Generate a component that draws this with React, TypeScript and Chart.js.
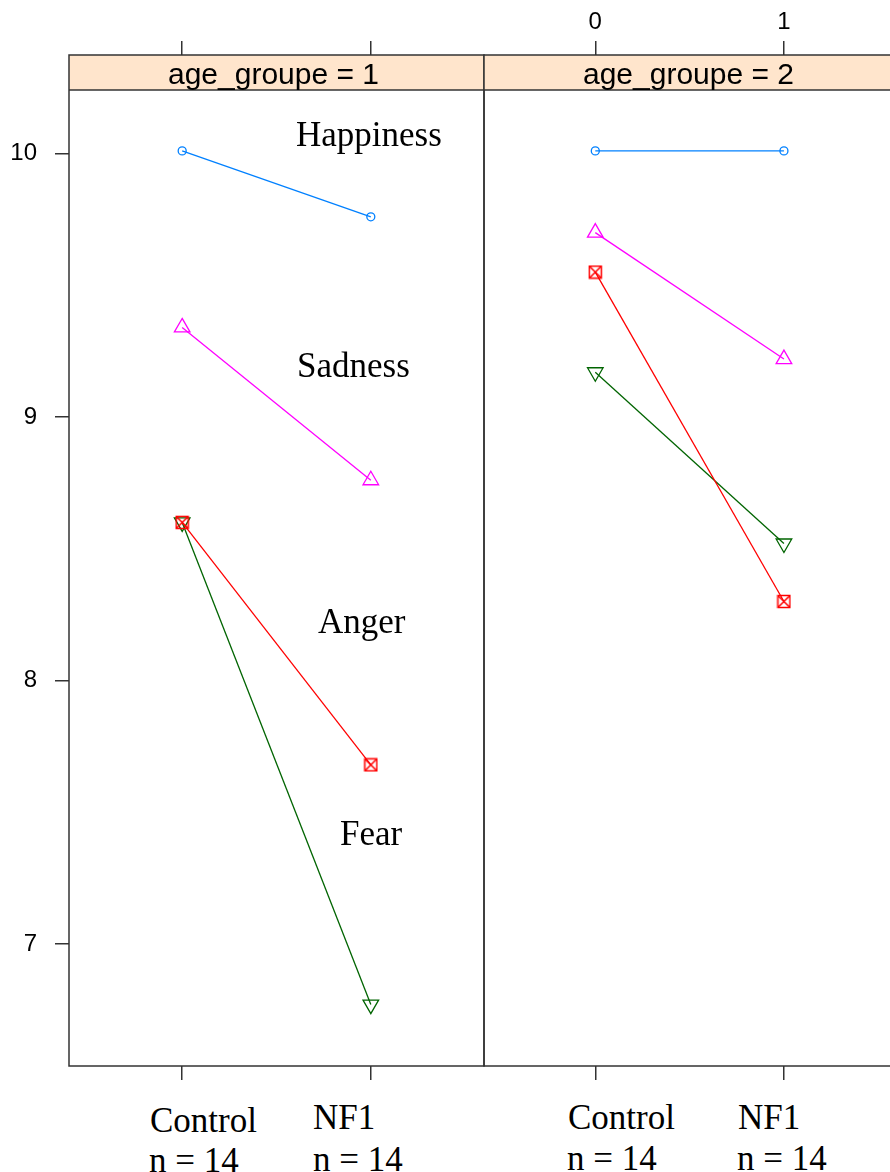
import React, { useEffect, useRef } from "react";
import { Chart, registerables } from "chart.js";

Chart.register(...registerables);

// ---------- data ----------
const groups = ["Control", "NF1"];
const groupSizes = [14, 14];
const xValues = [0, 1];
const panelLabels = ["age_groupe = 1", "age_groupe = 2"];
const emotions = ["Happiness", "Sadness", "Anger", "Fear"];

// age_groupe = 1 (Control, NF1)
const happiness1 = [10.01, 9.76];
const sadness1 = [9.34, 8.76];
const anger1 = [8.6, 7.68];
const fear1 = [8.6, 6.77];

// age_groupe = 2 (Control, NF1)
const happiness2 = [10.01, 10.01];
const sadness2 = [9.7, 9.22];
const anger2 = [9.55, 8.3];
const fear2 = [9.17, 8.52];

const yTicks = [7, 8, 9, 10];
const topTickLabels = ["0", "1"];

// ---------- style / layout ----------
const W = 890;
const H = 1172;
const PLOT_TOP = 55;
const PLOT_BOTTOM = 1066;
const STRIP_H = 35;
const CANVAS_H = 1090;
const Y_MIN = 6.537;
const Y_MAX = 10.374;
const LINE = "#333";

const colors: Record<string, string> = {
  Happiness: "#0080ff",
  Sadness: "#ff00ff",
  Anger: "#ff0000",
  Fear: "#006400",
};

function makeBoxX(color: string) {
  const c = document.createElement("canvas");
  c.width = 15;
  c.height = 15;
  const g = c.getContext("2d")!;
  g.strokeStyle = color;
  g.lineWidth = 1.5;
  g.strokeRect(1.5, 1.5, 12, 12);
  g.beginPath();
  g.moveTo(1.5, 1.5);
  g.lineTo(13.5, 13.5);
  g.moveTo(13.5, 1.5);
  g.lineTo(1.5, 13.5);
  g.stroke();
  return c;
}

const stripPlugin = {
  id: "strip",
  beforeDatasetsDraw(chart: any, _args: any, opts: any) {
    const { ctx, chartArea } = chart;
    const { left, right, top } = chartArea;
    ctx.save();
    ctx.fillStyle = "#ffe5cc";
    ctx.fillRect(left, top, right - left, STRIP_H);
    ctx.strokeStyle = LINE;
    ctx.lineWidth = 1.5;
    ctx.beginPath();
    ctx.moveTo(left, top + STRIP_H);
    ctx.lineTo(right, top + STRIP_H);
    ctx.stroke();
    ctx.fillStyle = "#000";
    ctx.font = '30px "Liberation Sans", Arial, sans-serif';
    ctx.textAlign = "center";
    ctx.textBaseline = "alphabetic";
    ctx.fillText(opts.label, (left + right) / 2 - 3, top + 29);
    ctx.restore();
  },
  afterDraw(chart: any) {
    const { ctx, chartArea } = chart;
    ctx.save();
    ctx.strokeStyle = LINE;
    ctx.lineWidth = 1.5;
    ctx.strokeRect(
      chartArea.left,
      chartArea.top,
      chartArea.right - chartArea.left,
      chartArea.bottom - chartArea.top
    );
    ctx.restore();
  },
};

function noPad(s: any) {
  s.paddingTop = 0;
  s.paddingBottom = 0;
  s.paddingLeft = 0;
  s.paddingRight = 0;
}

type PanelProps = {
  values: number[][];
  label: string;
  showY: boolean;
  showTopLabels: boolean;
  left: number;
  width: number;
  padLeft: number;
  padRight: number;
  xMin: number;
  xMax: number;
};

function Panel(p: PanelProps) {
  const ref = useRef<HTMLCanvasElement>(null);
  useEffect(() => {
    const boxX = makeBoxX(colors.Anger);
    const styleOf: Record<string, any> = {
      Happiness: { pointStyle: "circle", pointRadius: 4, pointRotation: 0 },
      Sadness: { pointStyle: "triangle", pointRadius: 9, pointRotation: 0 },
      Anger: { pointStyle: boxX, pointRadius: 7, pointRotation: 0 },
      Fear: { pointStyle: "triangle", pointRadius: 9, pointRotation: 180 },
    };
    const tickGrid = {
      display: true,
      drawOnChartArea: false,
      drawTicks: true,
      tickLength: 14,
      color: LINE,
      lineWidth: 1.5,
    };
    const tickFont = { family: '"Liberation Sans", Arial, sans-serif', size: 24 };
    const setXTicks = (s: any) => {
      s.ticks = xValues.map((v) => ({ value: v }));
    };
    const chart = new Chart(ref.current!, {
      type: "line",
      data: {
        datasets: emotions.map((name, i) => ({
          label: name,
          data: xValues.map((x, j) => ({ x, y: p.values[i][j] })),
          borderColor: colors[name],
          borderWidth: 1.3,
          backgroundColor: "rgba(0,0,0,0)",
          pointBorderColor: colors[name],
          pointBackgroundColor: "rgba(0,0,0,0)",
          pointBorderWidth: 1.3,
          tension: 0,
          fill: false,
          ...styleOf[name],
        })),
      },
      options: {
        responsive: false,
        animation: false,
        events: [],
        layout: {
          autoPadding: false,
          padding: { left: p.padLeft, right: p.padRight, top: 0, bottom: 0 },
        },
        plugins: {
          legend: { display: false },
          tooltip: { enabled: false },
          // @ts-ignore
          strip: { label: p.label },
        },
        scales: {
          x: {
            type: "linear",
            position: "bottom",
            min: p.xMin,
            max: p.xMax,
            afterBuildTicks: setXTicks,
            afterFit: (s: any) => {
              s.height = CANVAS_H - PLOT_BOTTOM;
              noPad(s);
            },
            ticks: { display: false },
            grid: tickGrid,
            border: { display: false },
          },
          xTop: {
            type: "linear",
            position: "top",
            min: p.xMin,
            max: p.xMax,
            afterBuildTicks: setXTicks,
            afterFit: (s: any) => {
              s.height = PLOT_TOP;
              noPad(s);
            },
            ticks: {
              display: p.showTopLabels,
              padding: 4,
              font: tickFont,
              color: "#000",
              maxRotation: 0,
              callback: (_v: any, i: number) => topTickLabels[i],
            },
            grid: tickGrid,
            border: { display: false },
          },
          y: {
            type: "linear",
            display: p.showY,
            min: Y_MIN,
            max: Y_MAX,
            afterBuildTicks: (s: any) => {
              s.ticks = yTicks.map((v) => ({ value: v }));
            },
            afterFit: (s: any) => {
              s.width = p.showY ? 69 : 0;
              noPad(s);
            },
            ticks: { padding: 18, font: tickFont, color: "#000" },
            grid: tickGrid,
            border: { display: false },
          },
        },
      },
      plugins: [stripPlugin as any],
    } as any);
    return () => chart.destroy();
  }, []);
  return (
    <canvas
      ref={ref}
      width={p.width}
      height={CANVAS_H}
      style={{ position: "absolute", left: p.left, top: 0, width: p.width, height: CANVAS_H }}
    />
  );
}

// text overlays (annotations in serif), positions are layout only
const annotationPos = [
  { x: 296, base: 146 },
  { x: 297, base: 377 },
  { x: 318, base: 633 },
  { x: 340, base: 845 },
];
const groupLabelPos = [
  [
    { x: 150, base: 1132, x2: 149, base2: 1172 },
    { x: 313, base: 1129, x2: 313, base2: 1171 },
  ],
  [
    { x: 568, base: 1129, x2: 567, base2: 1170 },
    { x: 738, base: 1129, x2: 737, base2: 1170 },
  ],
];

const SERIF = '"Liberation Serif", "Times New Roman", serif';
const ASC = 29.3;

function Txt({ text, x, base }: { text: string; x: number; base: number }) {
  return (
    <div
      style={{
        position: "absolute",
        left: x,
        top: base - ASC,
        fontFamily: SERIF,
        fontSize: 35,
        lineHeight: "35px",
        whiteSpace: "nowrap",
        color: "#000",
      }}
    >
      {text}
    </div>
  );
}

export default function App() {
  const panel1 = [happiness1, sadness1, anger1, fear1];
  const panel2 = [happiness2, sadness2, anger2, fear2];
  return (
    <div
      style={{
        position: "absolute",
        left: 0,
        top: 0,
        width: W,
        height: H,
        overflow: "hidden",
        background: "#fff",
      }}
    >
      <Panel
        values={panel1}
        label={panelLabels[0]}
        showY={true}
        showTopLabels={false}
        left={0}
        width={490}
        padLeft={0}
        padRight={6}
        xMin={-0.6}
        xMax={1.6}
      />
      <Panel
        values={panel2}
        label={panelLabels[1]}
        showY={false}
        showTopLabels={true}
        left={478}
        width={421}
        padLeft={6}
        padRight={0}
        xMin={-0.59}
        xMax={1.61}
      />
      {emotions.map((e, i) => (
        <Txt key={e} text={e} x={annotationPos[i].x} base={annotationPos[i].base} />
      ))}
      {groupLabelPos.map((panel, pi) =>
        panel.map((pos, gi) => (
          <React.Fragment key={`${pi}-${gi}`}>
            <Txt text={groups[gi]} x={pos.x} base={pos.base} />
            <Txt text={`n = ${groupSizes[gi]}`} x={pos.x2} base={pos.base2} />
          </React.Fragment>
        ))
      )}
    </div>
  );
}
